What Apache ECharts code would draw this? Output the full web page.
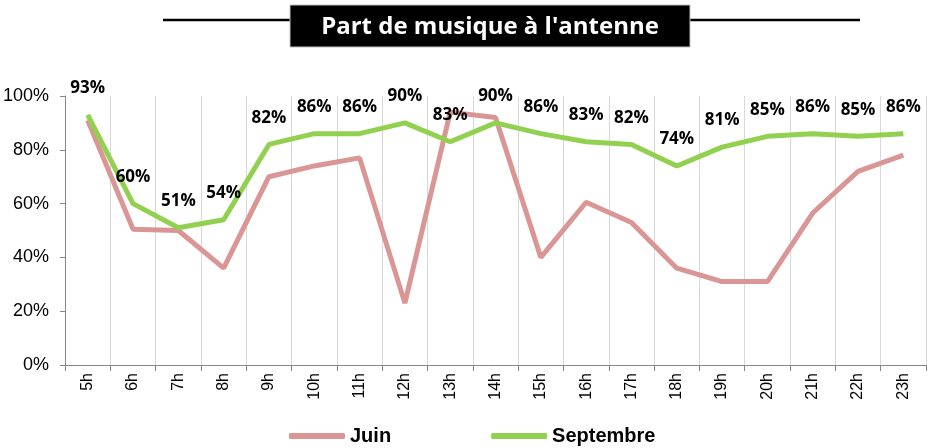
<!DOCTYPE html>
<html>
<head>
<meta charset="utf-8">
<script src="https://cdn.jsdelivr.net/npm/echarts@6/dist/echarts.min.js"></script>
<style>
  html, body { margin: 0; padding: 0; background: #fff; }
  #chart { width: 932px; height: 448px; }
</style>
</head>
<body>
<div id="chart"></div>
<script>
// heures de la journée
var hours = ['5h', '6h', '7h', '8h', '9h', '10h', '11h', '12h', '13h', '14h',
    '15h', '16h', '17h', '18h', '19h', '20h', '21h', '22h', '23h'];
// part de musique (%)
var juin = [91, 50.5, 50, 36, 70, 74, 77, 23, 94, 92, 40, 60.5, 53, 36, 31, 31, 56.5, 72, 78];
var septembre = [93, 60, 51, 54, 82, 86, 86, 90, 83, 90, 86, 83, 82, 74, 81, 85, 86, 85, 86];
var yTicks = [0, 20, 40, 60, 80, 100];

var myChart = echarts.init(document.getElementById('chart'));

var option = {
    animation: false,
    backgroundColor: '#fff',
    graphic: [
        { type: 'line', shape: { x1: 163, y1: 20, x2: 290, y2: 20 }, style: { stroke: '#000', lineWidth: 2.5 } },
        { type: 'line', shape: { x1: 690, y1: 20, x2: 860, y2: 20 }, style: { stroke: '#000', lineWidth: 2.5 } },
        { type: 'rect', shape: { x: 290, y: 5, width: 400, height: 42 }, style: { fill: '#000', stroke: '#bfbfbf', lineWidth: 1 } },
        {
            type: 'text', x: 490, y: 27,
            style: {
                text: "Part de musique à l'antenne",
                fill: '#fff',
                font: 'bold 24px "Open Sans"',
                align: 'center',
                verticalAlign: 'middle'
            }
        }
    ],
    grid: { left: 63, right: 6, top: 96, bottom: 83 },
    legend: {
        left: 284,
        top: 421,
        itemWidth: 56,
        itemHeight: 6,
        itemGap: 100,
        icon: 'roundRect',
        textStyle: { fontFamily: 'Liberation Sans', fontWeight: 'bold', fontSize: 20, color: '#000' },
        data: ['Juin', 'Septembre']
    },
    xAxis: {
        type: 'category',
        data: hours,
        boundaryGap: true,
        axisLine: { lineStyle: { color: '#868686', width: 1 } },
        axisTick: { show: true, length: 6, lineStyle: { color: '#868686' } },
        axisLabel: { rotate: 90, fontFamily: 'Liberation Sans', fontSize: 16, color: '#000', margin: 8 },
        splitLine: { show: true, lineStyle: { color: '#d9d9d9', width: 1 } }
    },
    yAxis: {
        type: 'value',
        min: 0,
        max: 100,
        interval: 20,
        axisLine: { show: true, lineStyle: { color: '#868686', width: 1 } },
        axisTick: { show: true, length: 5, lineStyle: { color: '#868686' } },
        axisLabel: {
            fontFamily: 'Liberation Sans', fontSize: 18, color: '#000', margin: 16,
            formatter: function (v) { return yTicks.indexOf(v) >= 0 ? v + '%' : ''; }
        },
        splitLine: { show: false }
    },
    series: [
        {
            name: 'Juin',
            type: 'line',
            data: juin,
            symbol: 'none',
            color: '#d99694',
            lineStyle: { width: 5, color: '#d99694' },
            z: 2
        },
        {
            name: 'Septembre',
            type: 'line',
            data: septembre,
            symbol: 'circle',
            symbolSize: 0.1,
            showSymbol: true,
            color: '#92d050',
            itemStyle: { color: '#92d050' },
            lineStyle: { width: 5, color: '#92d050' },
            label: {
                show: true,
                position: 'top',
                distance: 18,
                formatter: '{c}%',
                fontFamily: 'Open Sans',
                fontWeight: 'bold',
                fontSize: 17,
                color: '#000'
            },
            labelLayout: { hideOverlap: false },
            z: 3
        }
    ]
};

myChart.setOption(option);
</script>
</body>
</html>
